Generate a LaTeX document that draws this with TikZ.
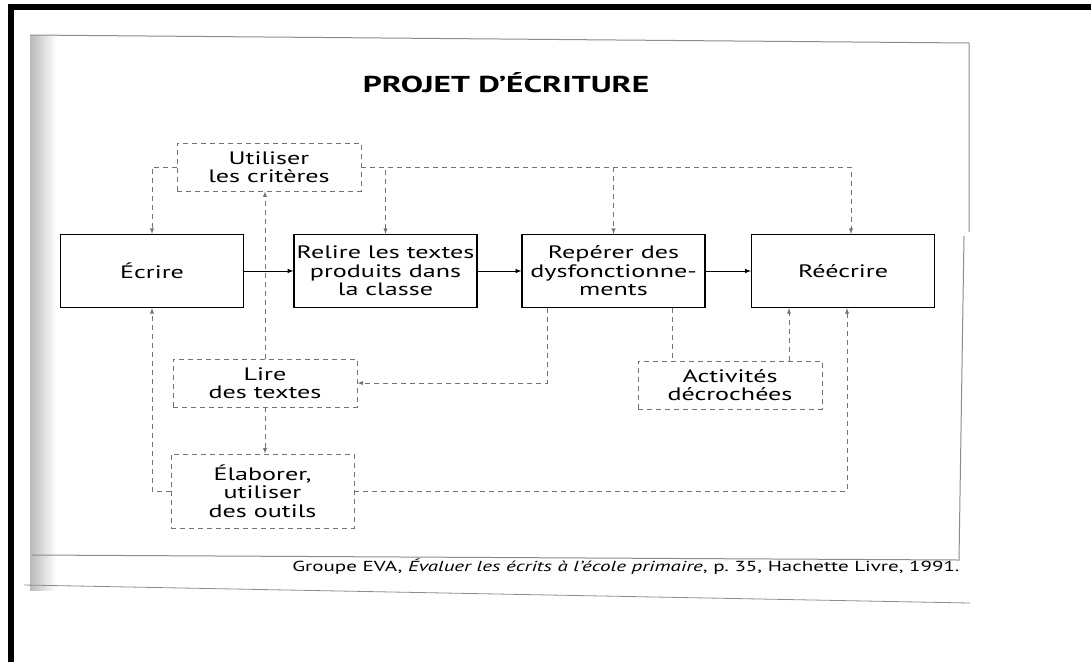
\documentclass[tikz,border=0pt]{standalone}
\usepackage{fontspec}
\setmainfont{PT Sans}[FakeStretch=1.45]
\usetikzlibrary{positioning}
\definecolor{trait}{gray}{0.45}
\definecolor{cadre}{gray}{0.55}
\begin{document}
\begin{tikzpicture}[x=1pt,y=-1pt,
    bloc/.style={draw,line width=1.1pt,minimum width=183pt,minimum height=73pt,inner sep=2pt,align=center,font=\fontsize{18}{18.5}\selectfont},
    annexe/.style={draw=trait,line width=0.9pt,dash pattern=on 5pt off 4pt,minimum width=184pt,minimum height=48pt,inner sep=2pt,align=center,font=\fontsize{18}{18.5}\selectfont},
    fleche/.style={line width=1pt,-latex},
    lien/.style={trait,line width=0.9pt,dash pattern=on 5pt off 4pt},
    lienf/.style={lien,-latex}]
        \useasboundingbox (0,0) rectangle (1091,662);
        % scan frame
        \fill (8,4) rectangle (1091,10);
        \fill (8,4) rectangle (14,662);
        \shade[left color=gray!55,right color=white] (30,35) rectangle (56,590);
        \draw[cadre,line width=1pt] (30,35) -- (969,43) -- (969,232);
        \draw[cadre,line width=1pt] (964,236) -- (959,560) -- (32,555);
        \draw[cadre,line width=0.8pt] (24,585) -- (970,603);
        \node at (506,83) (titre) {\fontsize{23}{25}\selectfont\bfseries PROJET D’ÉCRITURE};
        % main chain
        \node[bloc] at (152,271) (ecrire) {Écrire};
        \node[bloc] at (385.5,271) (relire) {Relire les textes\\produits dans\\la classe};
        \node[bloc] at (613.5,271) (reperer) {Repérer des\\dysfonctionne-\\ments};
        \node[bloc] at (843,271) (reecrire) {Réécrire};
        % side activities
        \node[annexe] at (269,167) (criteres) {Utiliser\\les critères};
        \node[annexe] at (265,383) (lire) {Lire\\des textes};
        \node[annexe] at (730,385) (decroche) {Activités\\décrochées};
        \node[annexe,minimum width=183pt,minimum height=74pt] at (262.5,491) (outils) {Élaborer,\\utiliser\\des outils};
        \draw[fleche] (ecrire) -- (relire);
        \draw[fleche] (relire) -- (reperer);
        \draw[fleche] (reperer) -- (reecrire);
        \draw[lienf] (criteres.west) -| (ecrire.north);
        \draw[lienf] (criteres.east) -| (relire.north);
        \draw[lienf] (criteres.east) -| (reperer.north);
        \draw[lienf] (criteres.east) -| ([xshift=8pt]reecrire.north);
        \draw[lienf] (lire.north) -- (lire.north |- criteres.south);
        \draw[lienf] ([xshift=-66pt]reperer.south) |- (lire.east);
        \draw[lienf] (lire.south) -- (lire.south |- outils.north);
        \draw[lienf] (outils.west) -| (ecrire.south);
        \draw[lienf] (outils.east) -| ([xshift=4pt]reecrire.south);
        \draw[lien] ([xshift=58.5pt]reperer.south) -- ([xshift=58.5pt]reperer.south |- decroche.north);
        \draw[lienf] ([xshift=59pt]decroche.north) -- ([xshift=59pt]decroche.north |- reecrire.south);
        \node[anchor=east,font=\fontsize{14.5}{17}\selectfont] at (963,567) (source) {Groupe EVA, \textit{Évaluer les écrits à l’école primaire}, p.~35, Hachette Livre, 1991.};
      \end{tikzpicture}
\end{document}
